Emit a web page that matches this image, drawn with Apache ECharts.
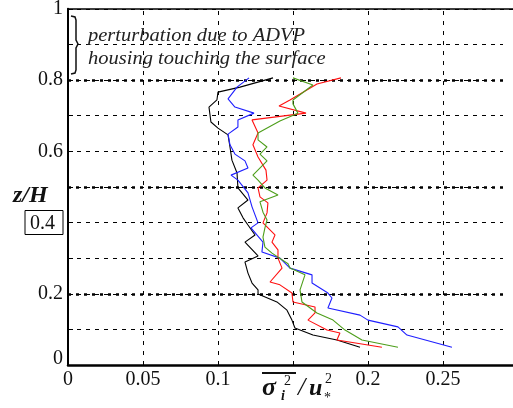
<!DOCTYPE html>
<html>
<head>
<meta charset="utf-8">
<script src="https://cdn.jsdelivr.net/npm/echarts@6/dist/echarts.min.js"></script>
<style>
html,body{margin:0;padding:0;background:#fff;overflow:hidden;}
#c{width:513px;height:408px;}
</style>
</head>
<body>
<div id="c"></div>
<script>
// ---- data (x = sigma_i^2/u*^2, z = z/H) ----
const blackX = [0.1947,0.1793,0.1633,0.1513,0.1493,0.146,0.1393,0.1267,0.1267,0.1227,0.12,0.118,0.1267,0.118,0.1247,0.12,0.1167,0.1133,0.12,0.1133,0.1127,0.1093,0.108,0.1067,0.1,0.0953,0.094,0.0993,0.1,0.1147,0.1367];
const blackZ = [0.050,0.070,0.084,0.104,0.126,0.154,0.177,0.199,0.211,0.230,0.258,0.289,0.306,0.345,0.365,0.393,0.413,0.441,0.463,0.497,0.539,0.575,0.612,0.646,0.665,0.682,0.724,0.744,0.766,0.780,0.806];

const blueX = [0.256,0.226,0.22,0.2,0.1947,0.1733,0.176,0.1733,0.1627,0.1627,0.148,0.1413,0.1293,0.13,0.122,0.1267,0.1227,0.12,0.1133,0.1087,0.12,0.118,0.1113,0.108,0.1067,0.1133,0.1133,0.124,0.1113,0.1067,0.1127,0.1207];
const blueZ = [0.050,0.084,0.107,0.126,0.140,0.160,0.188,0.202,0.230,0.253,0.272,0.300,0.317,0.345,0.385,0.399,0.444,0.483,0.519,0.533,0.553,0.573,0.592,0.618,0.648,0.668,0.688,0.707,0.724,0.747,0.780,0.806];

const redX = [0.2093,0.1793,0.1813,0.1727,0.16,0.1647,0.1647,0.15,0.1493,0.1413,0.1347,0.1427,0.14,0.14,0.136,0.138,0.13,0.1327,0.1333,0.128,0.1267,0.1327,0.132,0.1267,0.1233,0.1267,0.1227,0.1587,0.1407,0.148,0.166,0.182];
const redZ = [0.050,0.070,0.090,0.098,0.126,0.146,0.163,0.177,0.202,0.225,0.233,0.272,0.300,0.323,0.345,0.365,0.399,0.427,0.455,0.472,0.497,0.519,0.547,0.584,0.618,0.651,0.688,0.707,0.727,0.744,0.789,0.806];

const greenX = [0.22,0.196,0.1847,0.1767,0.166,0.156,0.1547,0.158,0.148,0.1467,0.136,0.1313,0.13,0.1313,0.1327,0.13,0.128,0.14,0.1313,0.1267,0.1233,0.1327,0.128,0.1327,0.1267,0.1267,0.1413,0.1533,0.15,0.15,0.1633,0.15];
const greenZ = [0.050,0.070,0.098,0.126,0.146,0.177,0.211,0.253,0.272,0.284,0.314,0.331,0.359,0.385,0.407,0.429,0.458,0.477,0.497,0.519,0.533,0.573,0.592,0.612,0.632,0.651,0.685,0.707,0.733,0.744,0.786,0.806];

const xTickLabels = ['0','0.05','0.1','','0.2','0.25'];
const yTickLabels = ['0','0.2','0.4','0.6','0.8','1'];
const xGridLines = [0.05,0.1,0.15,0.2,0.25];
const boldGridZ = [0.2,0.5,0.8];
const annotation = ['perturbation due to ADVP','housing touching the surface'];

// ---- chart ----
const zip = (xs, zs) => xs.map((x, i) => [x, zs[i]]);
const SERIF = '"Liberation Serif","DejaVu Serif",serif';

const chart = echarts.init(document.getElementById('c'), null, {renderer: 'canvas'});

function mkLine(name, xs, zs, color) {
  return {
    name, type: 'line', data: zip(xs, zs), showSymbol: false, symbol: 'none',
    lineStyle: {color, width: 1.1}, itemStyle: {color}, animation: false, z: 5, clip: false
  };
}

const X_MAX = 0.3007; // axes run slightly past the right edge of the picture

const option = {
  animation: false,
  backgroundColor: '#fff',
  grid: {left: 68, top: 8.75, bottom: 43, right: -6, show: false,
         containLabel: false, outerBoundsMode: 'none'},
  xAxis: [{
    type: 'value', min: 0, max: X_MAX, interval: 0.05,
    axisLine: {show: true, onZero: false, lineStyle: {color: '#000', width: 2.5}},
    axisTick: {show: false},
    splitLine: {show: false},
    axisLabel: {
      margin: 5, color: '#111', fontFamily: SERIF, fontSize: 20, showMaxLabel: false,
      formatter: (v) => { const i = Math.round(v / 0.05); return (Math.abs(v - i * 0.05) < 1e-6 && xTickLabels[i] !== undefined) ? xTickLabels[i] : ''; }
    }
  }, {
    type: 'value', position: 'top', min: 0, max: X_MAX, interval: 0.05,
    axisLine: {show: true, onZero: false, lineStyle: {color: '#000', width: 1.5}},
    axisTick: {show: false}, axisLabel: {show: false}, splitLine: {show: false}
  }],
  yAxis: {
    type: 'value', min: 0, max: 1, interval: 0.1,
    axisLine: {show: true, onZero: false, lineStyle: {color: '#000', width: 2}},
    axisTick: {show: true, inside: true, length: 5, lineStyle: {color: '#000', width: 1}},
    splitLine: {show: true, lineStyle: {color: '#000', width: 1, type: [4, 5]}},
    axisLabel: {
      margin: 5, color: '#111', fontFamily: SERIF, fontSize: 20,
      formatter: (v) => {
        const t = Math.round(v * 10);
        if (t % 2 !== 0) return '';
        const lab = yTickLabels[t / 2];
        if (t === 4) return '{box|' + lab + '}';
        if (t === 0) return '{zero|' + lab + '}';
        return lab;
      },
      rich: {
        box: {fontFamily: SERIF, fontSize: 20, color: '#111', borderColor: '#000', borderWidth: 1, padding: [3, 8, 1, 5]},
        zero: {fontFamily: SERIF, fontSize: 20, color: '#111', padding: [0, 0, 12, 0]}
      }
    }
  },
  series: [
    {
      type: 'line', data: [], silent: true, animation: false,
      markLine: {
        silent: true, symbol: ['none', 'none'], label: {show: false}, animation: false,
        lineStyle: {color: '#000', width: 2.5, type: [3, 5]},
        data: boldGridZ.map(z => ({yAxis: z}))
      }
    },
    {
      type: 'line', data: [], silent: true, animation: false,
      markLine: {
        silent: true, symbol: ['none', 'none'], label: {show: false}, animation: false,
        lineStyle: {color: '#000', width: 1, type: [4, 6]},
        data: xGridLines.map(x => ({xAxis: x}))
      }
    },
    mkLine('black', blackX, blackZ, '#000000'),
    mkLine('blue', blueX, blueZ, '#1f1fff'),
    mkLine('red', redX, redZ, '#ff1010'),
    mkLine('green', greenX, greenZ, '#4d9e1a')
  ],
  graphic: [
    // white strip hiding a stray vertical line at the right edge of the plot
    {type: 'rect', shape: {x: 503, y: 10.5, width: 10, height: 353}, style: {fill: '#fff'}, z: 100, silent: true},
    // brace
    {type: 'polyline', shape: {points: [[71,16],[75,17],[76,20],[76,40],[78,44],[76,48],[76,70],[75,73],[71,74]]},
     style: {stroke: '#111', lineWidth: 1.5, fill: null}, z: 10},
    {type: 'text', x: 88, y: 26, scaleX: 1.08, style: {text: annotation[0], font: 'italic 19px ' + SERIF, fill: '#222'}, z: 10},
    {type: 'text', x: 88, y: 49, scaleX: 1.08, style: {text: annotation[1], font: 'italic 19px ' + SERIF, fill: '#222'}, z: 10},
    // y axis title z/H
    {type: 'text', x: 13, y: 184, style: {text: 'z/H', font: 'italic bold 24px ' + SERIF, fill: '#111'}, z: 10},
    // x axis title: overline(sigma_i^2) / u_*^2
    {type: 'rect', shape: {x: 262, y: 372, width: 34, height: 2}, style: {fill: '#111'}, z: 10},
    {type: 'text', x: 262, y: 375, style: {text: 'σ', font: 'italic bold 26px ' + SERIF, fill: '#111'}, z: 10},
    {type: 'text', x: 281, y: 389, style: {text: 'i', font: 'italic bold 14px ' + SERIF, fill: '#111'}, z: 10},
    {type: 'text', x: 284, y: 374, style: {text: '2', font: '14px ' + SERIF, fill: '#111'}, z: 10},
    {type: 'text', x: 298, y: 375, style: {text: '/', font: 'italic 26px ' + SERIF, fill: '#111'}, z: 10},
    {type: 'text', x: 309, y: 377, style: {text: 'u', font: 'italic bold 24px ' + SERIF, fill: '#111'}, z: 10},
    {type: 'text', x: 324, y: 391, style: {text: '*', font: '14px ' + SERIF, fill: '#111'}, z: 10},
    {type: 'text', x: 325, y: 372, style: {text: '2', font: '14px ' + SERIF, fill: '#111'}, z: 10}
  ]
};
chart.setOption(option);
</script>
</body>
</html>
